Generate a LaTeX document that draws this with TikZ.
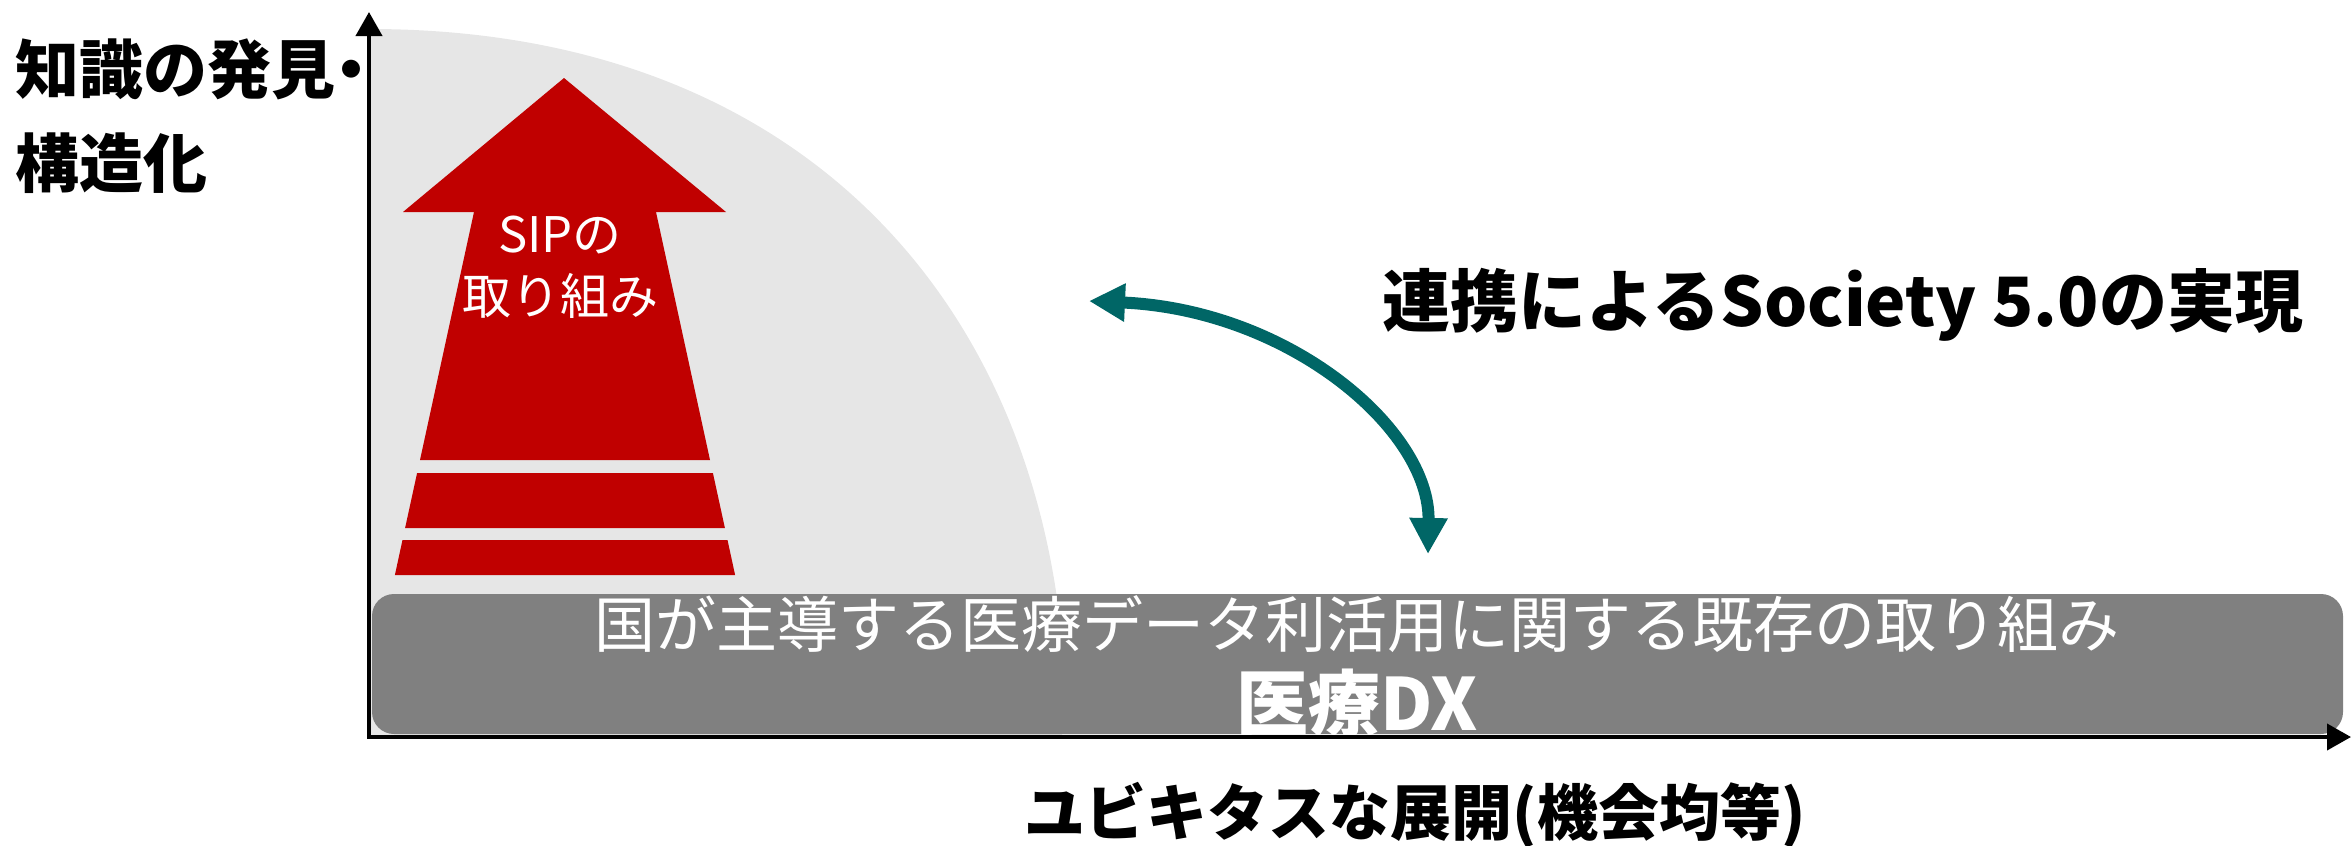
\documentclass[tikz,border=0pt]{standalone}
\usepackage{fontspec}
\setmainfont{Noto Sans CJK JP}
\usetikzlibrary{arrows.meta}
\definecolor{zonegrey}{RGB}{230,230,230}
\definecolor{sipred}{RGB}{192,0,0}
\definecolor{bargrey}{RGB}{128,128,128}
\definecolor{linkteal}{RGB}{0,102,102}
\begin{document}
\begin{tikzpicture}[x=1pt,y=-1pt,
  zone/.style={fill=zonegrey},
  sipshape/.style={fill=sipred},
  dxbar/.style={fill=bargrey, rounded corners=22pt},
  axisline/.style={line width=4pt, {Triangle[length=24pt,width=26pt]}-{Triangle[length=24pt,width=26pt]}},
  link/.style={draw=linkteal, line width=12pt, {Triangle[length=36pt,width=36pt]}-{Triangle[length=36pt,width=36pt]}},
  blacklab/.style={inner sep=0pt, text=black, font=\bfseries\fontsize{#1}{#1}\selectfont},
  whitelab/.style 2 args={inner sep=0pt, text=white, align=center, font=\fontsize{#1}{#2}\selectfont},
]
\useasboundingbox (0,0) rectangle (2351,846);
% grey zone
\fill[zone] (369,735) -- (369,29) .. controls (800,29) and (1030,300) .. (1062,640) -- (1062,735) -- cycle;
% SIP arrow
\fill[sipshape] (564,78) -- (726,212) -- (656,212) -- (710,460) -- (420,460) -- (474,212) -- (403,212) -- cycle;
\fill[sipshape] (417.1,473) -- (712.9,473) -- (724.9,528) -- (405.1,528) -- cycle;
\fill[sipshape] (402.5,540) -- (727.5,540) -- (735.1,575) -- (394.9,575) -- cycle;
\node[whitelab={49}{62}] (sip) at (560,267) {SIPの\\取り組み};
% bar
\fill[dxbar] (372,594) rectangle (2343,734);
\node[whitelab={61}{61}] (bartext) at (1357,624) {国が主導する医療データ利活用に関する既存の取り組み};
\node[inner sep=0pt, text=white, font=\bfseries\fontsize{72}{72}\selectfont] (dx) at (1357,703) {医療DX};
% axes
\coordinate (ytip) at (369,12);
\coordinate (O) at (369,737);
\coordinate (xtip) at (2351,737);
\draw[axisline] (ytip) -- (O) -- (xtip);
% labels
\node[blacklab=64, anchor=west] (yl1) at (15,69) {知識の発見\kern-0.24em・};
\node[blacklab=64, anchor=west] (yl2) at (15,163) {構造化};
\node[blacklab=61] (xl) at (1415,815) {ユビキタスな展開(機会均等)};
\node[blacklab=68] (soc) at (1843,305) {連携によるSociety 5.0の実現};
% link arrow
\coordinate (la) at (1089,301);
\coordinate (lb) at (1428,554);
\draw[link] (la) .. controls (1290,310) and (1430,430) .. (lb);
\end{tikzpicture}
\end{document}
